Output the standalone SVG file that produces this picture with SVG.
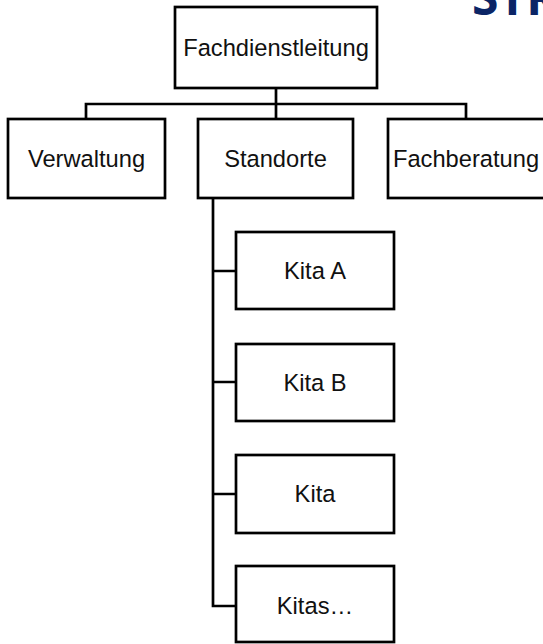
<svg xmlns="http://www.w3.org/2000/svg" width="543" height="644" viewBox="0 0 543 644">
<style>
.box{fill:#fff;stroke:#000;stroke-width:2.7}
.lbl{font-family:"Liberation Sans",Arial,sans-serif;font-size:23.7px;fill:#111;text-anchor:middle}
.con{fill:none;stroke:#000;stroke-width:2.7}
.title{font-family:"Open Sans","DejaVu Sans",sans-serif;font-weight:bold;font-size:48px;fill:#0b2566}
</style>
<rect width="543" height="644" fill="#fff"/>
<text class="title" x="472" y="15">STR</text>
<g id="connectors">
<path class="con" d="M276 88V104M86 119V104H466V119M276 104V119"/>
<path class="con" d="M213 198V606H236M213 271H236M213 382H236M213 494H236"/>
</g>
<g id="fachdienstleitung"><rect class="box" x="175" y="7" width="202" height="81"/><text class="lbl" x="276" y="56">Fachdienstleitung</text></g>
<g id="verwaltung"><rect class="box" x="8" y="119" width="157" height="79"/><text class="lbl" x="86.5" y="167">Verwaltung</text></g>
<g id="standorte"><rect class="box" x="198" y="119" width="155" height="79"/><text class="lbl" x="275.5" y="167">Standorte</text></g>
<g id="fachberatung"><rect class="box" x="388" y="119" width="157" height="79"/><text class="lbl" x="466" y="167">Fachberatung</text></g>
<g id="kita-a"><rect class="box" x="236" y="232" width="158" height="77"/><text class="lbl" x="315" y="279">Kita A</text></g>
<g id="kita-b"><rect class="box" x="236" y="344" width="158" height="77"/><text class="lbl" x="315" y="391">Kita B</text></g>
<g id="kita"><rect class="box" x="236" y="455" width="158" height="78"/><text class="lbl" x="315" y="502">Kita</text></g>
<g id="kitas"><rect class="box" x="236" y="566" width="158" height="76"/><text class="lbl" x="315" y="614">Kitas…</text></g>
</svg>
